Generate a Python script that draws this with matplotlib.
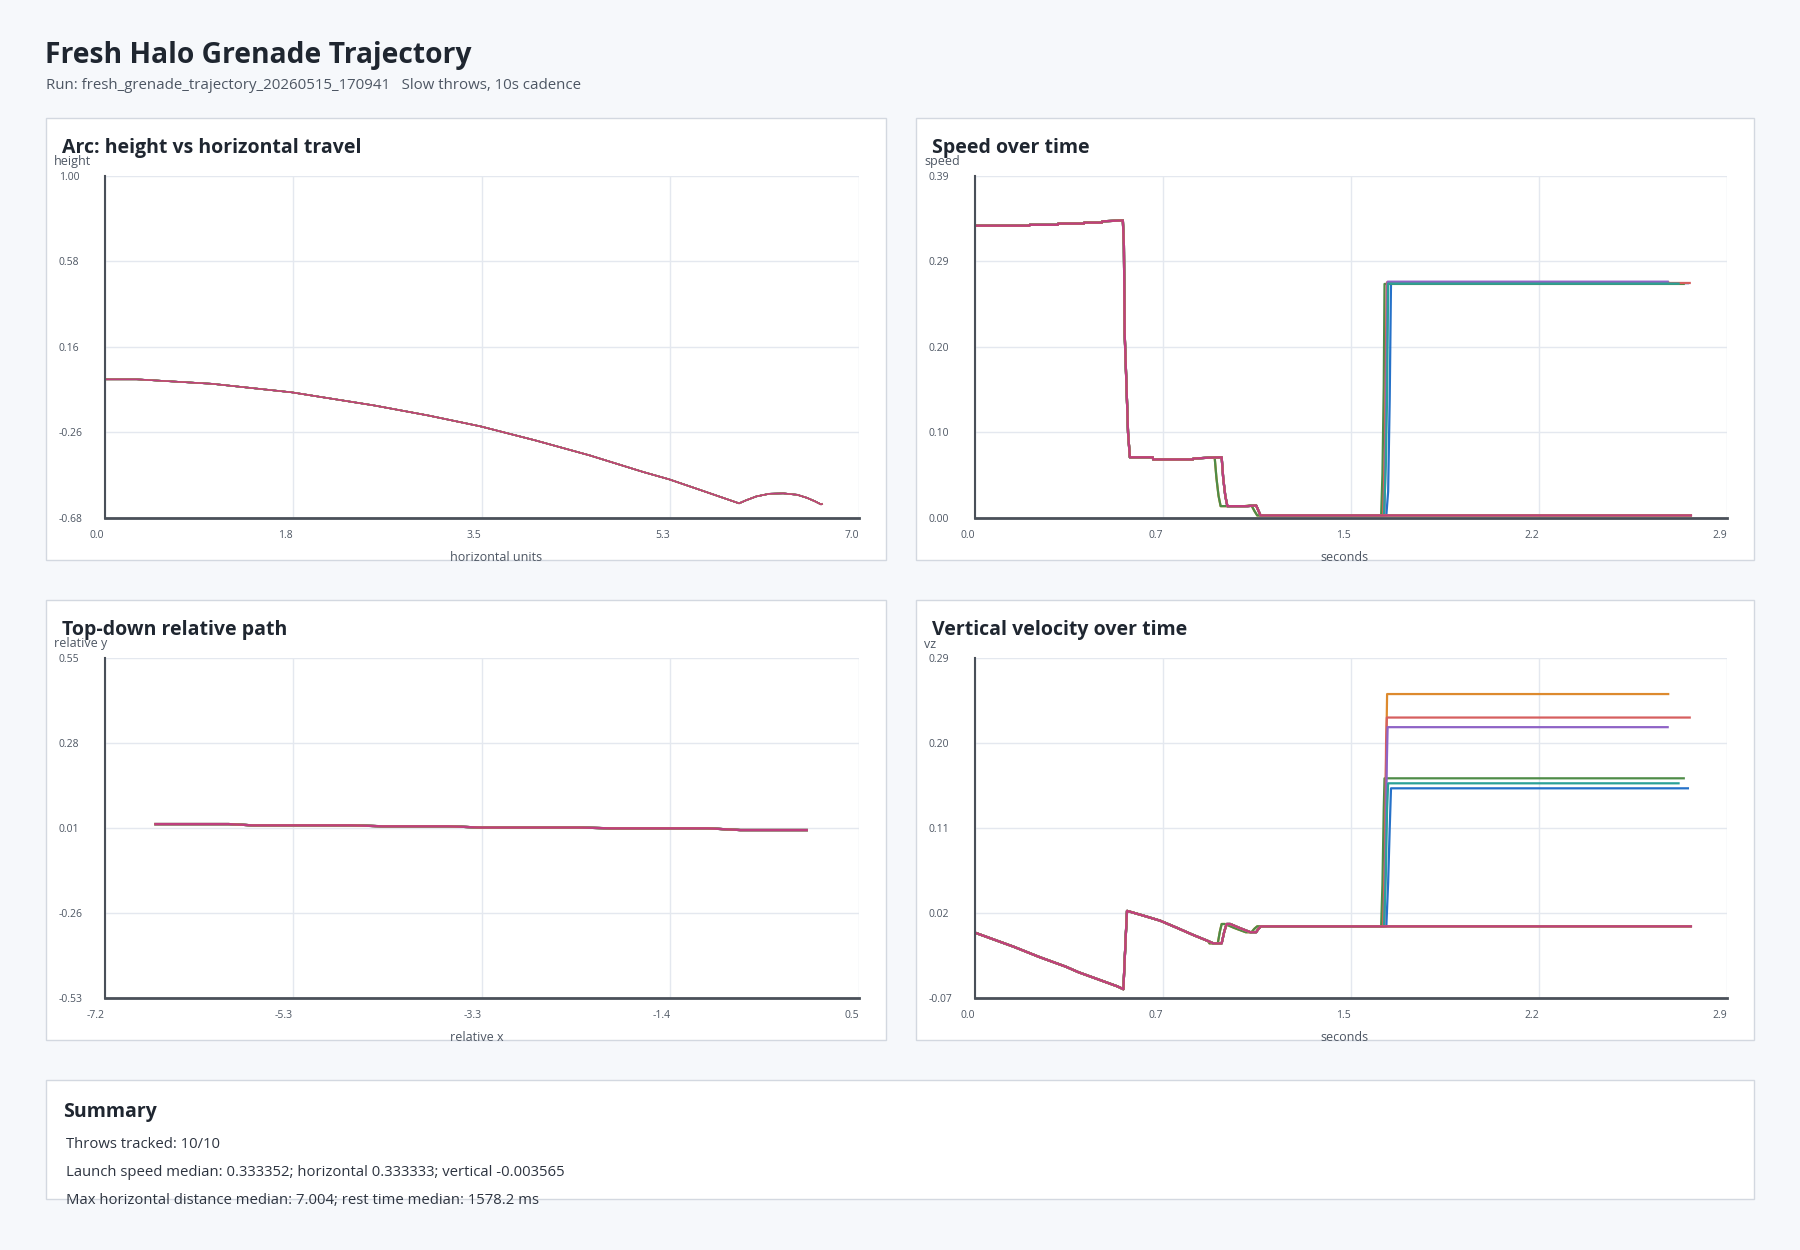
import numpy as np
import matplotlib
matplotlib.use("Agg")
import matplotlib.pyplot as plt
from matplotlib.patches import Rectangle

plt.rcParams['font.family'] = ['Open Sans', 'DejaVu Sans']

W, H = 1800, 1250

# ---- data ----
THROW_COLORS = ['#2571c9', '#dd8a2e', '#4e8c47', '#d65f5f', '#8e63c6',
                '#2aa198', '#8c6d4f', '#7d8590', '#c2a634', '#bf3f7e']
THROW_EARLY = [False, True, True, False, False, False, False, False, False, False]
THROW_END = [2.750, 2.674, 2.734, 2.757, 2.672, 2.714, 2.761, 2.761, 2.761, 2.762]

# arc (height vs horizontal travel), same for every throw
ARC_X = [0.00, 0.30, 1.00, 1.74, 2.00, 2.50, 3.00, 3.49, 4.00, 4.50, 5.00, 5.24,
         5.50, 5.89, 5.95, 6.05, 6.17, 6.30, 6.43, 6.52, 6.59, 6.65, 6.66]
ARC_H = [0.000, 0.000, -0.022, -0.064, -0.086, -0.128, -0.177, -0.231, -0.300,
         -0.373, -0.455, -0.491, -0.538, -0.609, -0.595, -0.575, -0.562, -0.560,
         -0.567, -0.582, -0.598, -0.614, -0.612]

# top-down relative path
PATH_X = [-6.68, -5.93, -5.69, -4.68, -4.36, -3.69, -3.36, -2.36, -2.03, -1.04, -0.71, -0.03]
PATH_Y = [0.022, 0.022, 0.018, 0.018, 0.015, 0.015, 0.011, 0.011, 0.0085, 0.0085, 0.003, 0.003]

# speed over time: shared head, two tail variants
SPEED_HEAD_T = [0.000, 0.210, 0.212, 0.320, 0.322, 0.420, 0.422, 0.490, 0.492, 0.571,
                0.575, 0.578, 0.585, 0.591, 0.598, 0.686, 0.688, 0.841, 0.843, 0.900]
SPEED_HEAD_V = [0.333, 0.333, 0.334, 0.334, 0.3354, 0.3354, 0.3365, 0.3365, 0.338, 0.339,
                0.310, 0.210, 0.150, 0.097, 0.069, 0.069, 0.0665, 0.0665, 0.0675, 0.0685]
SPEED_TAIL_T = [0.952, 0.958, 0.966, 0.974, 1.052, 1.085, 1.094, 1.102]
SPEED_TAIL_T_EARLY = [0.925, 0.932, 0.940, 0.948, 1.040, 1.067, 1.078, 1.089]
SPEED_TAIL_V = [0.069, 0.045, 0.025, 0.0133, 0.0133, 0.0141, 0.008, 0.0027]

# vertical velocity: shared head, two tail variants
VZ_HEAD_T = [0.000, 0.050, 0.100, 0.150, 0.200, 0.250, 0.300, 0.350, 0.400, 0.450, 0.500,
             0.550, 0.573, 0.578, 0.583, 0.587, 0.600, 0.650, 0.715, 0.780, 0.843, 0.900]
VZ_HEAD_V = [-0.001, -0.006, -0.011, -0.016, -0.0215, -0.027, -0.032, -0.037, -0.043,
             -0.048, -0.053, -0.058, -0.061, -0.030, 0.000, 0.022, 0.021, 0.017, 0.0116,
             0.004, -0.0036, -0.010]
VZ_TAIL_T = [0.920, 0.952, 0.962, 0.971, 0.985, 1.020, 1.063, 1.085, 1.094, 1.103]
VZ_TAIL_T_EARLY = [0.905, 0.937, 0.945, 0.952, 0.965, 1.000, 1.045, 1.067, 1.078, 1.089]
VZ_TAIL_V = [-0.0124, -0.0124, 0.000, 0.0081, 0.0081, 0.004, -0.0006, -0.0006, 0.003, 0.0056]

# rebound jump after rest (None = stays at rest)
JUMP_T = [[1.587, 1.594, 1.600, 1.605],
          [1.572, 1.580, 1.586, 1.590],
          [1.567, 1.572, 1.577, 1.580],
          [1.575, 1.582, 1.586, 1.589],
          [1.580, 1.585, 1.589, 1.592],
          [1.578, 1.585, 1.590, 1.594],
          None, None, None, None]
JUMP_SPEED = [[0.0027, 0.030, 0.135, 0.2675],
              [0.0027, 0.060, 0.170, 0.2685],
              [0.0027, 0.050, 0.150, 0.2666],
              [0.0027, 0.080, 0.200, 0.2677],
              [0.0027, 0.090, 0.190, 0.2692],
              [0.0027, 0.060, 0.140, 0.2670],
              None, None, None, None]
JUMP_VZ = [[0.0056, 0.052, 0.109, 0.1519],
           [0.0056, 0.060, 0.180, 0.2518],
           [0.0056, 0.050, 0.130, 0.1625],
           [0.0056, 0.080, 0.200, 0.2269],
           [0.0056, 0.090, 0.180, 0.2167],
           [0.0056, 0.060, 0.130, 0.1572],
           None, None, None, None]

ARC_XT = ['0.0', '1.8', '3.5', '5.3', '7.0']
ARC_YT = ['-0.68', '-0.26', '0.16', '0.58', '1.00']
TIME_XT = ['0.0', '0.7', '1.5', '2.2', '2.9']
SPEED_YT = ['0.00', '0.10', '0.20', '0.29', '0.39']
PATH_XT = ['-7.2', '-5.3', '-3.3', '-1.4', '0.5']
PATH_YT = ['-0.53', '-0.26', '0.01', '0.28', '0.55']
VZ_YT = ['-0.07', '0.02', '0.11', '0.20', '0.29']

SUMMARY = ['Throws tracked: 10/10',
           'Launch speed median: 0.333352; horizontal 0.333333; vertical -0.003565',
           'Max horizontal distance median: 7.004; rest time median: 1578.2 ms']


def build(head_t, head_v, tail_t, tail_v, jt, jv, end_t):
    t = list(head_t) + list(tail_t)
    v = list(head_v) + list(tail_v)
    if jt is not None:
        t += jt
        v += jv
    t.append(end_t)
    v.append(v[-1])
    return t, v


BG = '#f6f8fb'
TXT = '#1f2630'
MUTED = '#4d5663'

fig = plt.figure(figsize=(18, 12.5), dpi=100, facecolor=BG)


def fx(px):
    return px / W


def fy(py):
    return 1 - py / H


def box(x0, y0, x1, y1):
    fig.patches.append(Rectangle((fx(x0), fy(y1)), fx(x1 - x0), (y1 - y0) / H,
                                 transform=fig.transFigure, fc='white', ec='#d3d8e0',
                                 lw=1.0, zorder=-5))


def panel(bx, by, ax_px, title, ylab, xlab, xlim, ylim, xt, yt):
    x0, y0, x1, y1 = ax_px
    box(bx[0], by[0], bx[1], by[1])
    ax = fig.add_axes([fx(x0), fy(y1), fx(x1 - x0), (y1 - y0) / H])
    ax.set_facecolor('white')
    ax.set_xlim(*xlim)
    ax.set_ylim(*ylim)
    ax.set_xticks(np.linspace(xlim[0], xlim[1], 5))
    ax.set_xticklabels(xt, ha='right')
    ax.set_yticks(np.linspace(ylim[0], ylim[1], 5))
    ax.set_yticklabels(yt, ha='left')
    ax.tick_params(axis='x', length=0, pad=8.5, labelsize=7.5, labelcolor=MUTED)
    ax.tick_params(axis='y', length=0, pad=33, labelsize=7.5, labelcolor=MUTED)
    ax.grid(True, color='#e4e8ef', lw=1.0)
    ax.set_axisbelow(True)
    for s in ['top', 'right']:
        ax.spines[s].set_visible(False)
    ax.spines['left'].set_color('#4a5059')
    ax.spines['left'].set_linewidth(1.5)
    ax.spines['bottom'].set_color('#4a5059')
    ax.spines['bottom'].set_linewidth(2.0)
    fig.text(fx(bx[0] + 16), fy(y0 - 28), title, fontsize=14, fontweight='bold',
             color=TXT, ha='left', va='center')
    fig.text(fx(x0 - 50.5), fy(y0 - 14), ylab, fontsize=9, color=MUTED,
             ha='left', va='center')
    fig.text(fx(x0 + 345.6), fy(y1 + 40), xlab, fontsize=9, color=MUTED,
             ha='left', va='center')
    return ax


fig.text(fx(45), fy(55.5), 'Fresh Halo Grenade Trajectory', fontsize=20.3,
         fontweight='bold', color=TXT, ha='left', va='center')
fig.text(fx(46), fy(85.5), 'Run: fresh_grenade_trajectory_20260515_170941   Slow throws, 10s cadence',
         fontsize=10.8, color=MUTED, ha='left', va='center')

ax1 = panel((46, 886), (118, 560), (104.5, 175.7, 858.7, 517.8),
            'Arc: height vs horizontal travel', 'height', 'horizontal units',
            (0, 7.0), (-0.68, 1.00), ARC_XT, ARC_YT)
ax2 = panel((916, 1754), (118, 560), (974.8, 175.7, 1726.8, 517.8),
            'Speed over time', 'speed', 'seconds',
            (0, 2.9), (0, 0.39), TIME_XT, SPEED_YT)
ax3 = panel((46, 886), (600, 1040), (104.5, 658, 858.7, 997.7),
            'Top-down relative path', 'relative y', 'relative x',
            (-7.2, 0.5), (-0.53, 0.55), PATH_XT, PATH_YT)
ax4 = panel((916, 1754), (600, 1040), (974.8, 658, 1726.8, 997.7),
            'Vertical velocity over time', 'vz', 'seconds',
            (0, 2.9), (-0.07, 0.29), TIME_XT, VZ_YT)

for i, c in enumerate(THROW_COLORS):
    ax1.plot(ARC_X, ARC_H, color=c, lw=1.1)
    ax3.plot(PATH_X, PATH_Y, color=c, lw=1.6)
    st = SPEED_TAIL_T_EARLY if THROW_EARLY[i] else SPEED_TAIL_T
    t, v = build(SPEED_HEAD_T, SPEED_HEAD_V, st, SPEED_TAIL_V,
                 JUMP_T[i], JUMP_SPEED[i], THROW_END[i])
    ax2.plot(t, v, color=c, lw=1.6)
    vt = VZ_TAIL_T_EARLY if THROW_EARLY[i] else VZ_TAIL_T
    t, v = build(VZ_HEAD_T, VZ_HEAD_V, vt, VZ_TAIL_V,
                 JUMP_T[i], JUMP_VZ[i], THROW_END[i])
    ax4.plot(t, v, color=c, lw=1.6)

# summary card
box(46, 1080, 1754, 1199)
fig.text(fx(63), fy(1111.5), 'Summary', fontsize=14, fontweight='bold',
         color=TXT, ha='left', va='center')
for k, line in enumerate(SUMMARY):
    fig.text(fx(66.5), fy(1144.5 + k * 28.2), line, fontsize=10.7, color='#2d3440',
             ha='left', va='center')

fig.savefig('out.png', dpi=100, facecolor=BG)
